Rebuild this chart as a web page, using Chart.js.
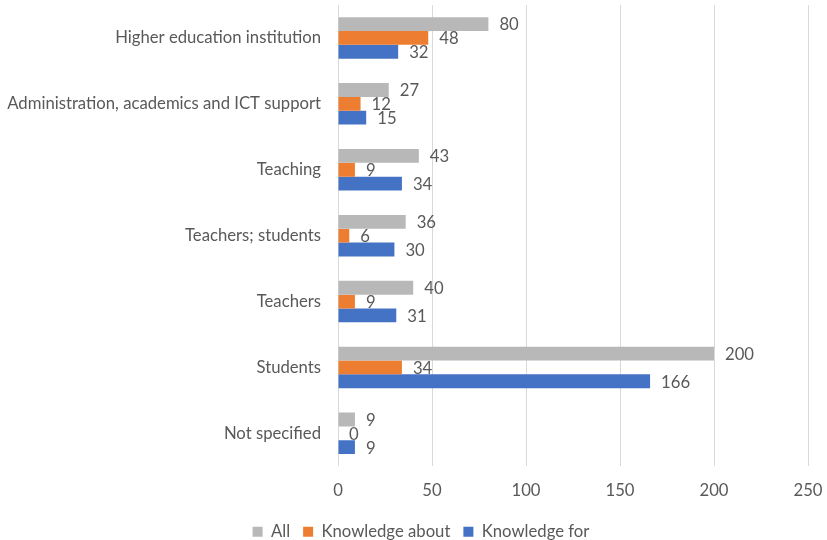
<!DOCTYPE html>
<html lang="en">
<head>
  <meta charset="UTF-8" />
  <title>Knowledge by target group</title>
  <script src="https://cdn.jsdelivr.net/npm/chart.js"></script>
  <style>
    html, body {
      margin: 0;
      padding: 0;
      background: #fff;
    }
    .wrap {
      width: 827px;
      height: 540px;
    }
  </style>
</head>
<body>
  <div class="wrap">
    <canvas id="chart" width="827" height="540"></canvas>
  </div>

  <script>
    const categories = [
      'Higher education institution',
      'Administration, academics and ICT support',
      'Teaching',
      'Teachers; students',
      'Teachers',
      'Students',
      'Not specified'
    ];
    const allValues = [80, 27, 43, 36, 40, 200, 9];
    const aboutValues = [48, 12, 9, 6, 9, 34, 0];
    const forValues = [32, 15, 34, 30, 31, 166, 9];
    const xTicks = [0, 50, 100, 150, 200, 250];

    const textColor = '#595959';
    const fontFamily = 'Lato, "Open Sans", sans-serif';
    const fontSize = 16.7;

    // value labels just past the end of each bar
    const barLabels = {
      id: 'barLabels',
      afterDatasetsDraw(chart) {
        const ctx = chart.ctx;
        ctx.save();
        ctx.font = fontSize + 'px ' + fontFamily;
        ctx.fillStyle = textColor;
        ctx.textAlign = 'left';
        ctx.textBaseline = 'middle';
        chart.data.datasets.forEach((ds, i) => {
          const meta = chart.getDatasetMeta(i);
          meta.data.forEach((bar, j) => {
            ctx.fillText(String(ds.data[j]), bar.x + 11, bar.y + 1);
          });
        });
        ctx.restore();
      }
    };

    // move the legend a bit right and down from where the layout puts it
    const legendShift = {
      id: 'legendShift',
      afterLayout(chart) {
        const lg = chart.legend;
        lg.left += 17;
        lg.right += 17;
        lg.top += 10;
        lg.bottom += 10;
      }
    };

    // the scales should not reserve extra room for overhanging labels
    function noScalePadding(scale) {
      scale.paddingLeft = 0;
      scale.paddingRight = 0;
      scale.paddingTop = 0;
      scale.paddingBottom = 0;
    }

    new Chart(document.getElementById('chart'), {
      type: 'bar',
      data: {
        labels: categories,
        datasets: [
          { label: 'All', data: allValues, backgroundColor: '#b8b8b8' },
          { label: 'Knowledge about', data: aboutValues, backgroundColor: '#ed7d31' },
          { label: 'Knowledge for', data: forValues, backgroundColor: '#4472c4' }
        ]
      },
      options: {
        indexAxis: 'y',
        responsive: false,
        animation: false,
        datasets: {
          bar: {
            barPercentage: 1,
            categoryPercentage: 0.63
          }
        },
        layout: {
          padding: { top: 5, right: 19, bottom: 0, left: 0 }
        },
        scales: {
          x: {
            min: 0,
            max: 250,
            afterBuildTicks(scale) {
              scale.ticks = xTicks.map(v => ({ value: v }));
            },
            afterFit(scale) {
              scale.height = 34;
              noScalePadding(scale);
            },
            grid: {
              color: '#d9d9d9',
              lineWidth: 1,
              drawTicks: false
            },
            border: { display: false },
            ticks: {
              color: textColor,
              font: { family: fontFamily, size: fontSize },
              padding: 14
            }
          },
          y: {
            afterFit(scale) {
              scale.width = 338;
              noScalePadding(scale);
            },
            grid: { display: false, drawTicks: false },
            border: { display: false },
            ticks: {
              color: textColor,
              font: { family: fontFamily, size: fontSize },
              padding: 17
            }
          }
        },
        plugins: {
          legend: {
            position: 'bottom',
            labels: {
              color: textColor,
              font: { family: fontFamily, size: fontSize },
              boxWidth: 10,
              boxHeight: 10,
              padding: 13
            }
          },
          tooltip: { enabled: false }
        }
      },
      plugins: [barLabels, legendShift]
    });
  </script>
</body>
</html>
